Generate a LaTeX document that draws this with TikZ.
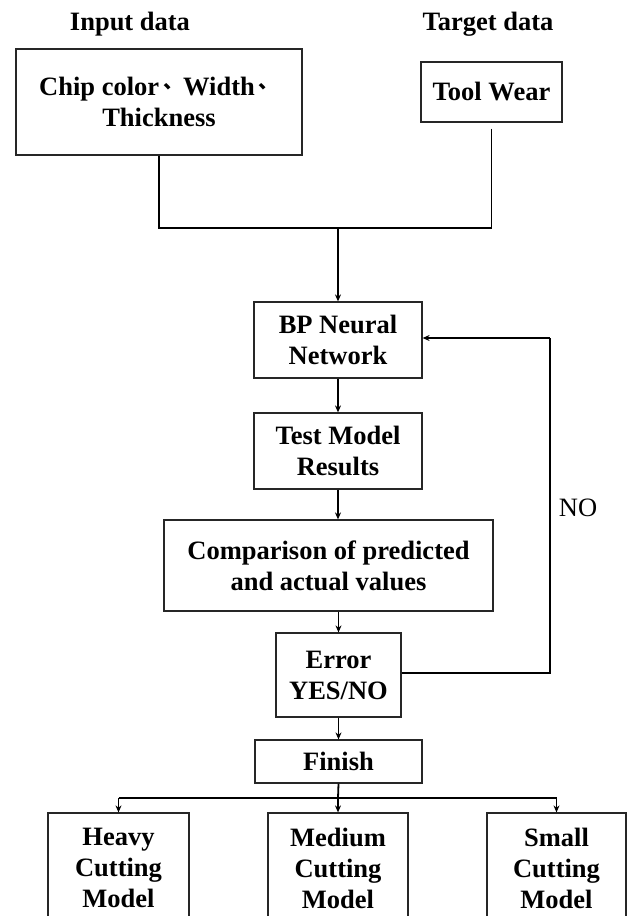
\documentclass[tikz,border=0pt]{standalone}
\usepackage{fontspec}
\setmainfont{Liberation Serif}
\newfontfamily\cjk{Noto Sans CJK SC}
\newcommand{\dunhao}{\hspace{0.15em}\raisebox{0.25em}{\cjk\fontsize{20}{20}\selectfont 、}}
\usetikzlibrary{arrows.meta}
\begin{document}
\begin{tikzpicture}[x=1pt,y=-1pt,
  box/.style={draw=black!85,line width=1.2pt,rectangle,inner sep=0pt,align=center,
    font=\fontsize{26.5}{31}\selectfont\bfseries},
  head/.style={inner sep=0pt,font=\fontsize{26.5}{31}\selectfont\bfseries},
  conn/.style={line width=1.8pt,black},
  arr/.style={conn,-{Stealth[length=7pt,width=6pt]}}]
\useasboundingbox (0,0) rectangle (627,916);
\begin{scope}
\clip (0,0) rectangle (627,916);
\node[head] (inlab) at (130,24) {Input data};
\node[head] (tglab) at (488,24) {Target data};
\node[box,minimum width=286pt,minimum height=106pt] (inp) at (159,102)
  {Chip color\dunhao Width\dunhao\\Thickness};
\node[box,minimum width=141pt,minimum height=60pt] (tw) at (491.5,92) {Tool Wear};
\coordinate (jn) at (338,228);
\node[box,minimum width=168pt,minimum height=76pt] (bp) at (338,340) {BP Neural\\Network};
\node[box,minimum width=168pt,minimum height=76pt] (test) at (338,451) {Test Model\\Results};
\node[box,minimum width=329pt,minimum height=91pt] (cmp) at (328.5,565.5) {Comparison of predicted\\and actual values};
\node[box,minimum width=125pt,minimum height=84pt] (err) at (338.5,675) {Error\\YES/NO};
\node[box,minimum width=167pt,minimum height=43pt] (fin) at (338.5,761.5) {Finish};
\node[box,minimum width=141pt,minimum height=110pt] (heavy) at (118.5,868) {Heavy\\Cutting\\Model};
\node[box,minimum width=140pt,minimum height=110pt] (med) at (338,868) {Medium\\Cutting\\Model};
\node[box,minimum width=139pt,minimum height=110pt] (small) at (556.5,868) {Small\\Cutting\\Model};
\coordinate (br) at (338,798);
\coordinate (fbtop) at (550,338);
\coordinate (fbbot) at (550,673);
\node[inner sep=0pt,font=\fontsize{26.5}{31}\selectfont] (no) at (578,508) {NO};

\draw[conn] (inp.south) -- (inp.south |- jn) -- (jn);
\draw[conn,shorten <=6pt] (tw.south) -- (tw.south |- jn) -- (jn);
\draw[arr] (jn) -- (bp.north);
\draw[arr] (bp.south) -- (test.north);
\draw[arr] (test.south) -- (test.south |- cmp.north);
\draw[arr] (err.north |- cmp.south) -- (err.north);
\draw[arr] (err.south) -- (fin.north);
\draw[conn] (err.east |- fbbot) -- (fbbot) -- (fbtop);
\draw[arr] (fbtop) -- (bp.east |- fbtop);
\draw[conn] (fin.south) -- (br);
\draw[conn] (heavy.north |- br) -- (small.north |- br);
\draw[arr] (heavy.north |- br) -- (heavy.north);
\draw[arr] (br) -- (med.north);
\draw[arr] (small.north |- br) -- (small.north);
\end{scope}
\end{tikzpicture}
\end{document}
